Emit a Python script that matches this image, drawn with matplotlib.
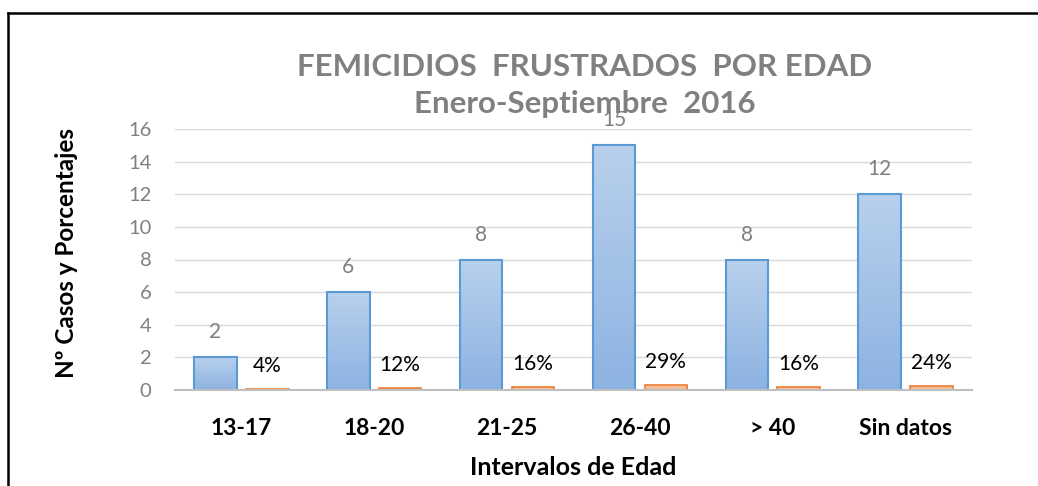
import matplotlib
matplotlib.use("Agg")
import matplotlib.pyplot as plt
import numpy as np
from matplotlib.lines import Line2D
from matplotlib.colors import LinearSegmentedColormap

categories = ["13-17", "18-20", "21-25", "26-40", "> 40", "Sin datos"]
cases = [2, 6, 8, 15, 8, 12]
percents = [0.04, 0.12, 0.16, 0.29, 0.16, 0.24]
pct_labels = ["4%", "12%", "16%", "29%", "16%", "24%"]
yticks = [0, 2, 4, 6, 8, 10, 12, 14, 16]

plt.rcParams['font.family'] = ['Lato', 'DejaVu Sans']

W, H = 1038, 486
fig = plt.figure(figsize=(W / 100, H / 100), dpi=100)
ax = fig.add_axes([175 / W, (H - 390) / H, (972 - 175) / W, (390 - 129) / H])

x = np.arange(len(categories))
bw = 0.32
off = 0.195

blue_cmap = LinearSegmentedColormap.from_list("b", ["#8DB3E2", "#B8D0EC"])
orange_cmap = LinearSegmentedColormap.from_list("o", ["#F4B183", "#F8CBAD"])

bars_b = ax.bar(x - off, cases, bw, facecolor="none", edgecolor="#5B9BD5", linewidth=1.5, zorder=4)
bars_o = ax.bar(x + off, percents, bw, facecolor="none", edgecolor="#ED7D31", linewidth=1.2, zorder=4)

grad = np.linspace(0, 1, 256).reshape(-1, 1)
for bars, cmap in ((bars_b, blue_cmap), (bars_o, orange_cmap)):
    for b in bars:
        x0, y0 = b.get_x(), b.get_y()
        w, h = b.get_width(), b.get_height()
        im = ax.imshow(grad, cmap=cmap, origin="lower", aspect="auto",
                       extent=[x0, x0 + w, y0, y0 + h], zorder=3)
        im.set_clip_path(b)

for xi, v in zip(x - off, cases):
    ax.annotate(str(v), (xi, v), xytext=(0, 18), textcoords="offset points",
                ha="center", va="center", fontsize=15, color="#808080", zorder=6)
for xi, v, lab in zip(x + off, percents, pct_labels):
    ax.annotate(lab, (xi, v), xytext=(0, 16.5), textcoords="offset points",
                ha="center", va="center", fontsize=15, color="black", zorder=6)

ax.set_xlim(-0.5, len(categories) - 0.5)
ax.set_ylim(0, 16)
ax.set_yticks(yticks)
ax.set_yticklabels([str(t) for t in yticks], fontsize=14.5, color="#808080")
ax.set_xticks(x)
ax.set_xticklabels(categories, fontsize=16.5, fontweight="bold", color="black")
ax.tick_params(axis="both", length=0)
ax.tick_params(axis="x", pad=20)
ax.tick_params(axis="y", pad=17)
ax.grid(axis="y", color="#D9D9D9", linewidth=1.0, zorder=0)
ax.set_axisbelow(True)
for s in ["top", "right", "left"]:
    ax.spines[s].set_visible(False)
ax.spines["bottom"].set_color("#BFBFBF")
ax.spines["bottom"].set_linewidth(1.5)
ax.spines["bottom"].set_zorder(5)
ax.set_facecolor("none")

fig.text(585 / W, 1 - 67 / H, "FEMICIDIOS  FRUSTRADOS  POR EDAD", ha="center", va="center",
         fontsize=22.5, fontweight="bold", color="#808080")
fig.text(585 / W, 1 - 104 / H, "Enero-Septiembre  2016", ha="center", va="center",
         fontsize=22.5, fontweight="bold", color="#808080")
fig.text(66 / W, 1 - 253 / H, "Nº Casos y Porcentajes", ha="center", va="center",
         rotation=90, fontsize=17.5, fontweight="bold", color="black")
fig.text(573 / W, 1 - 467 / H, "Intervalos de Edad", ha="center", va="center",
         fontsize=18, fontweight="bold", color="black")

fig.add_artist(Line2D([8 / W, 8 / W], [0, 1 - 13 / H], color="black", linewidth=1.8))
fig.add_artist(Line2D([8 / W, 1], [1 - 13 / H, 1 - 13 / H], color="black", linewidth=1.8))

fig.savefig("out.png", dpi=100)
